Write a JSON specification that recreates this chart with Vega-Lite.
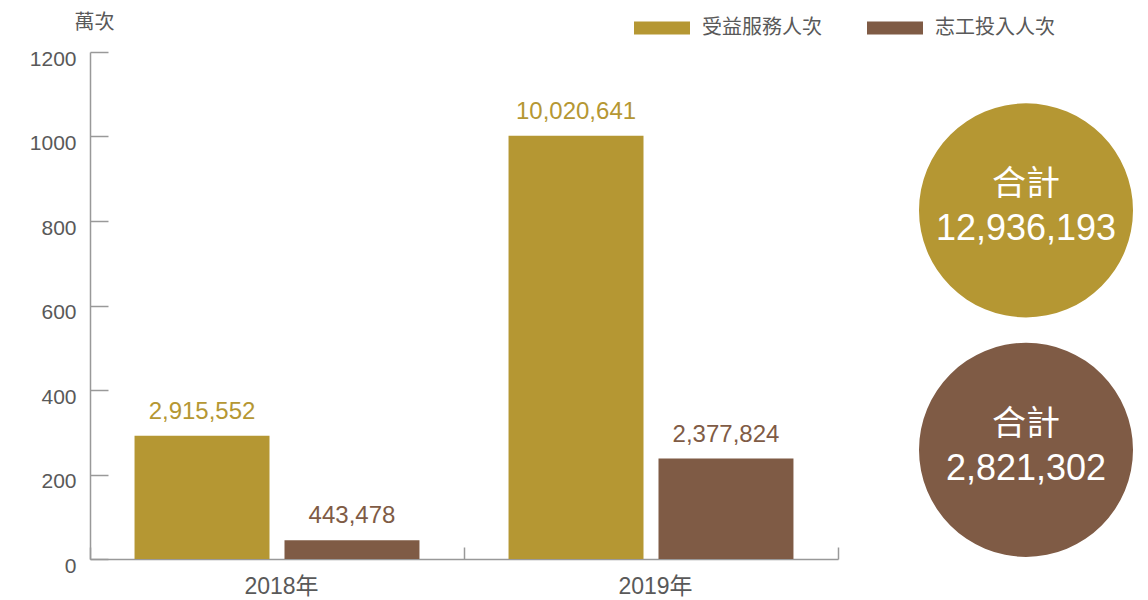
{
  "$schema": "https://vega.github.io/schema/vega-lite/v6.json",
  "padding": {"left": 29, "top": 0, "right": 5, "bottom": 5},
  "background": "white",
  "config": {
    "font": "Liberation Sans, 'Noto Sans CJK TC', sans-serif",
    "view": {"stroke": null}
  },
  "datasets": {
    "bars": [
      {"year": "2018年", "series": "受益服務人次", "count": 2915552},
      {"year": "2018年", "series": "志工投入人次", "count": 443478},
      {"year": "2019年", "series": "受益服務人次", "count": 10020641},
      {"year": "2019年", "series": "志工投入人次", "count": 2377824}
    ],
    "totals": [
      {"series": "受益服務人次", "total": 12936193},
      {"series": "志工投入人次", "total": 2821302}
    ]
  },
  "bounds": "flush",
  "spacing": 78,
  "resolve": {"legend": {"color": "independent"}},
  "hconcat": [
    {
      "width": 748,
      "height": 507,
      "data": {"name": "bars"},
      "encoding": {
        "x": {
          "field": "year", "type": "nominal",
          "scale": {"paddingInner": 0, "paddingOuter": 0},
          "axis": {
            "title": null, "labelAngle": 0, "labelFontSize": 23, "labelColor": "#595959",
            "labelPadding": 28, "labelOffset": 4, "domainColor": "#999999", "tickColor": "#999999",
            "tickBand": "extent", "tickSize": -12, "domainWidth": 1.5, "tickWidth": 1.5
          }
        },
        "xOffset": {
          "field": "series", "type": "nominal", "sort": ["受益服務人次", "志工投入人次"],
          "scale": {"paddingInner": 0.1, "paddingOuter": 0.297}
        },
        "y": {
          "field": "count", "type": "quantitative",
          "scale": {"domain": [0, 12000000], "nice": false},
          "axis": {
            "values": [0, 2000000, 4000000, 6000000, 8000000, 10000000, 12000000],
            "labelExpr": "format(datum.value / 10000, 'd')",
            "grid": false, "tickSize": -18, "tickColor": "#999999", "domainColor": "#999999",
            "domainWidth": 1.5, "tickWidth": 1.5,
            "labelFontSize": 21, "labelColor": "#595959", "labelPadding": 32, "labelOffset": 7,
            "title": "萬次", "titleAngle": 0, "titleX": 4, "titleY": -30,
            "titleAlign": "center", "titleBaseline": "middle",
            "titleFontSize": 20, "titleFontWeight": "normal", "titleColor": "#595959"
          }
        },
        "color": {
          "field": "series", "type": "nominal",
          "sort": ["受益服務人次", "志工投入人次"],
          "scale": {"domain": ["受益服務人次", "志工投入人次"], "range": ["#B59733", "#7F5B45"]},
          "legend": {
            "title": null, "orient": "none", "direction": "horizontal",
            "legendX": 544, "legendY": -52,
            "symbolType": "M-1,-0.23H1V0.23H-1Z", "symbolSize": 3136,
            "symbolStrokeWidth": 0, "symbolOpacity": 1,
            "labelFontSize": 20, "labelColor": "#595959", "labelOffset": 12,
            "columnPadding": 45
          }
        }
      },
      "layer": [
        {"mark": {"type": "bar", "opacity": 1}},
        {
          "mark": {"type": "text", "baseline": "alphabetic", "dy": -17, "fontSize": 24},
          "encoding": {"text": {"field": "count", "type": "quantitative", "format": ","}}
        }
      ]
    },
    {
      "width": 220,
      "height": 507,
      "data": {"name": "totals"},
      "encoding": {
        "y": {
          "field": "series", "type": "nominal", "sort": ["受益服務人次", "志工投入人次"],
          "scale": {"type": "point", "padding": 0.5586, "align": 0.592},
          "axis": null
        }
      },
      "layer": [
        {
          "mark": {"type": "circle", "size": 45796, "opacity": 1},
          "encoding": {
            "color": {
              "field": "series", "type": "nominal",
              "scale": {"domain": ["受益服務人次", "志工投入人次"], "range": ["#B59733", "#7F5B45"]},
              "legend": null
            }
          }
        },
        {
          "mark": {"type": "text", "dy": -25, "fontSize": 34, "color": "white", "baseline": "middle"},
          "encoding": {"text": {"value": "合計"}}
        },
        {
          "mark": {"type": "text", "dy": 19, "fontSize": 36, "color": "white", "baseline": "middle"},
          "encoding": {"text": {"field": "total", "type": "quantitative", "format": ","}}
        }
      ]
    }
  ]
}
